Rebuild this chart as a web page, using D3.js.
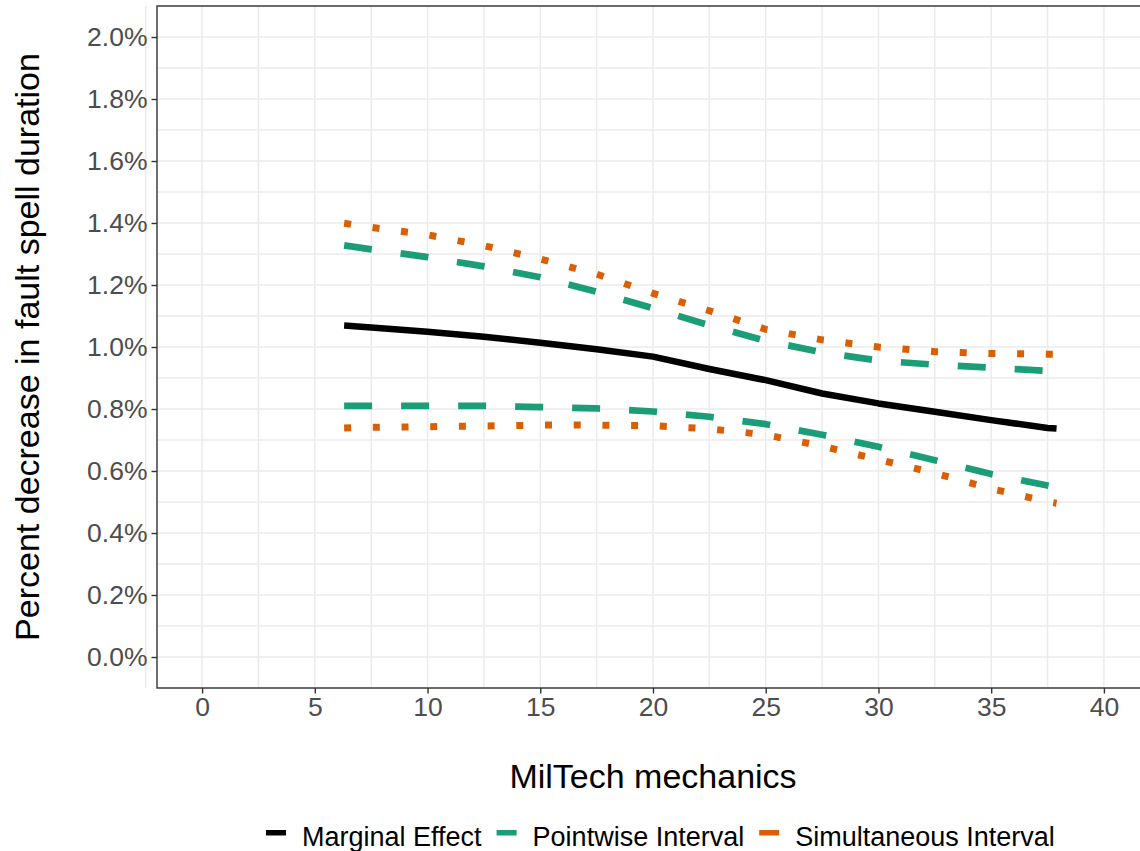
<!DOCTYPE html>
<html>
<head>
<meta charset="utf-8">
<script src="https://cdn.jsdelivr.net/npm/d3@7"></script>
<style>
body { margin: 0; background: #fff; }
svg { display: block; font-family: "Liberation Sans", Arial, sans-serif; }
</style>
</head>
<body>
<div id="chart"></div>
<script>
// data (x = MilTech mechanics, y = share)
var xVals=[6.3,7.5,10,12.5,15,17.5,20,22.5,25,27.5,30,32.5,35,37.5,37.9];
var marginal=[0.01069,0.01063,0.01049,0.01033,0.01014,0.00993,0.00969,0.00929,0.00893,0.00850,0.00818,0.00791,0.00764,0.00739,0.00737];
var pointUpper=[0.01328,0.01315,0.01290,0.01260,0.01225,0.01178,0.01125,0.01070,0.01020,0.00983,0.00956,0.00943,0.00933,0.00923,0.00922];
var pointLower=[0.00810,0.00810,0.00810,0.00810,0.00806,0.00802,0.00792,0.00775,0.00751,0.00717,0.00678,0.00635,0.00590,0.00553,0.00547];
var simUpper=[0.01399,0.01386,0.01362,0.01327,0.01284,0.01235,0.01173,0.01117,0.01057,0.01023,0.01000,0.00985,0.00979,0.00977,0.00977];
var simLower=[0.00739,0.00741,0.00743,0.00745,0.00748,0.00748,0.00746,0.00736,0.00717,0.00680,0.00637,0.00593,0.00543,0.00501,0.00496];

var xTicks=[0,5,10,15,20,25,30,35,40];
var yTicks=[0,0.002,0.004,0.006,0.008,0.010,0.012,0.014,0.016,0.018,0.020];
var legendLabels=["Marginal Effect","Pointwise Interval","Simultaneous Interval"];
var legendColors=["#000000","#1b9e77","#d95f02"];

// svg size
var svgWidth=1140;
var svgHeight=851;

// panel box
var panel={left:157,top:6,right:1149,bottom:688};

var svg=d3.select("#chart")
.append("svg")
.attr("width",svgWidth)
.attr("height",svgHeight);

// scales
var xScale=d3.scaleLinear()
    .domain([-2,42])
    .range([panel.left,panel.right]);
var yScale=d3.scaleLinear()
    .domain([-0.001,0.021])
    .range([panel.bottom,panel.top]);

// grid lines
var gridGroup=svg.append("g");
var xMinor=d3.range(-2.5,42.6,2.5);
var yMinor=d3.range(-0.001,0.0211,0.001);

gridGroup.selectAll("line.vx")
.data(xMinor)
.enter()
.append("line")
.attr("x1",d=>xScale(d))
.attr("x2",d=>xScale(d))
.attr("y1",panel.top)
.attr("y2",panel.bottom)
.attr("stroke","#ebebeb")
.attr("stroke-width",1.5);

gridGroup.selectAll("line.hy")
.data(yMinor)
.enter()
.append("line")
.attr("x1",panel.left)
.attr("x2",panel.right)
.attr("y1",d=>yScale(d))
.attr("y2",d=>yScale(d))
.attr("stroke","#ebebeb")
.attr("stroke-width",1.5);

// clip for panel
svg.append("clipPath")
.attr("id","panelClip")
.append("rect")
.attr("x",panel.left)
.attr("y",panel.top)
.attr("width",panel.right-panel.left)
.attr("height",panel.bottom-panel.top);

var lineGen=d3.line()
    .x(d=>xScale(d[0]))
    .y(d=>yScale(d[1]));

function pairUp(vals) {
    return xVals.map((x,i)=>[x,vals[i]]);
}

var series=[
    {vals:pointUpper,color:legendColors[1],dash:"28,29",w:6.7},
    {vals:pointLower,color:legendColors[1],dash:"28,29",w:6.7},
    {vals:simUpper,color:legendColors[2],dash:"7,21.7",w:7},
    {vals:simLower,color:legendColors[2],dash:"7,21.7",w:7},
    {vals:marginal,color:legendColors[0],dash:null,w:6.5}
];

var linesGroup=svg.append("g").attr("clip-path","url(#panelClip)");
series.forEach(function(s) {
    linesGroup.append("path")
    .attr("d",lineGen(pairUp(s.vals)))
    .attr("fill","none")
    .attr("stroke",s.color)
    .attr("stroke-width",s.w)
    .attr("stroke-dasharray",s.dash)
    .attr("stroke-linejoin","round")
    .attr("stroke-linecap","butt");
});

// panel border
svg.append("rect")
.attr("x",panel.left)
.attr("y",panel.top)
.attr("width",panel.right-panel.left)
.attr("height",panel.bottom-panel.top)
.attr("fill","none")
.attr("stroke","#333333")
.attr("stroke-width",1.4);

// axes
var leftAxis=d3.axisLeft(yScale)
    .tickValues(yTicks)
    .tickFormat(d3.format(".1%"))
    .tickSize(5.5)
    .tickPadding(4);
var bottomAxis=d3.axisBottom(xScale)
    .tickValues(xTicks)
    .tickSize(5.5)
    .tickPadding(3.5);

var yAxis=svg.append("g")
.attr("transform",`translate(${panel.left},0)`)
.call(leftAxis);
var xAxis=svg.append("g")
.attr("transform",`translate(0,${panel.bottom})`)
.call(bottomAxis);

[xAxis,yAxis].forEach(function(ax) {
    ax.select(".domain").remove();
    ax.selectAll(".tick line").attr("stroke","#333333").attr("stroke-width",1.4);
    ax.selectAll(".tick text")
    .attr("fill","#4d4d4d")
    .attr("font-size","26.5px")
    .attr("font-family","'Liberation Sans', Arial, sans-serif");
});

// axis titles
svg.append("text")
.attr("x",(panel.left+panel.right)/2)
.attr("y",788)
.attr("text-anchor","middle")
.attr("font-size","34px")
.attr("fill","#000")
.text("MilTech mechanics");

svg.append("text")
.attr("transform",`translate(39,${(panel.top+panel.bottom)/2}) rotate(-90)`)
.attr("text-anchor","middle")
.attr("font-size","34px")
.attr("fill","#000")
.text("Percent decrease in fault spell duration");

// legend
var legendGroup=svg.append("g");
var lx=266;
legendLabels.forEach(function(label,i) {
    legendGroup.append("rect")
    .attr("x",lx)
    .attr("y",830)
    .attr("width",20)
    .attr("height",5.5)
    .attr("fill",legendColors[i]);
    var t=legendGroup.append("text")
    .attr("x",lx+36)
    .attr("y",846)
    .attr("font-size","27px")
    .attr("fill","#000")
    .text(label);
    lx=lx+36+t.node().getComputedTextLength()+15;
});
</script>
</body>
</html>
